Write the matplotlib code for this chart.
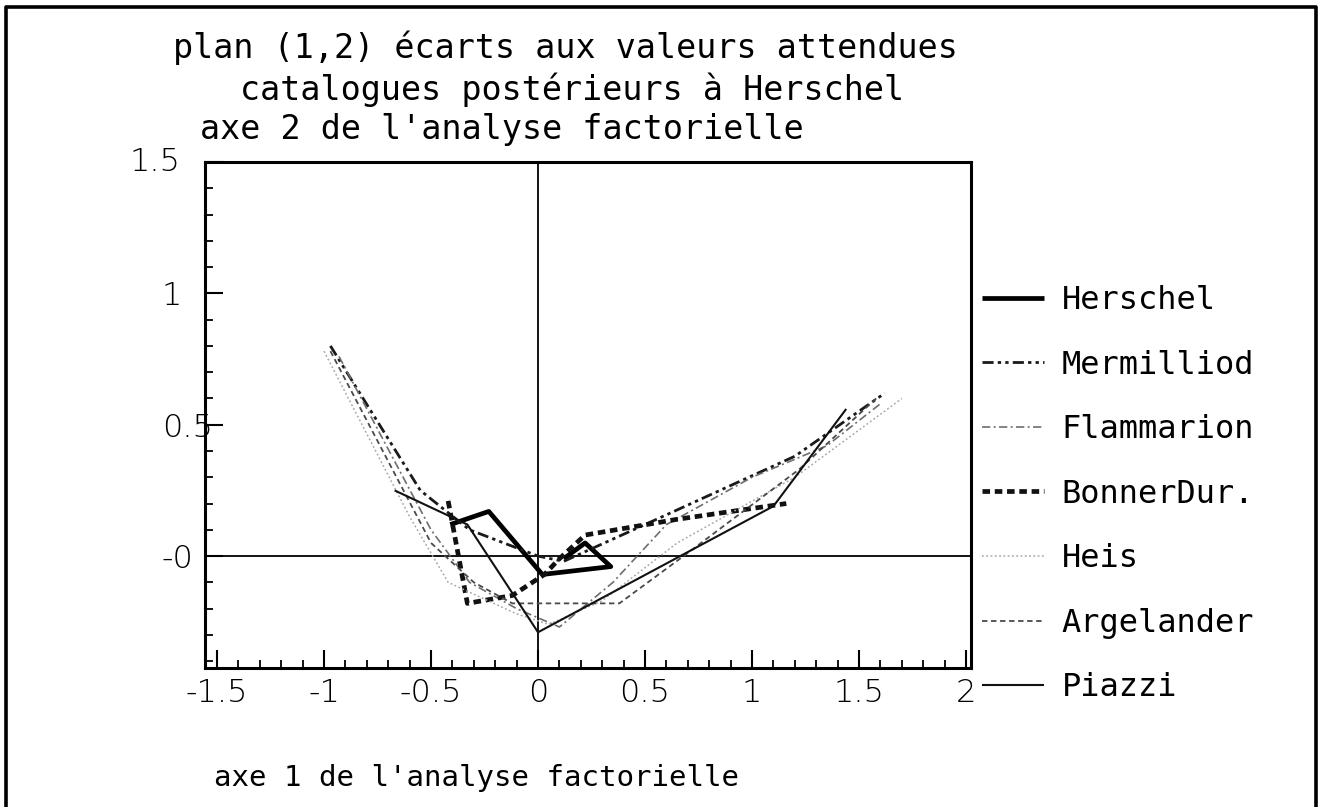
import matplotlib
matplotlib.use("Agg")
import matplotlib.pyplot as plt
from matplotlib.lines import Line2D
from matplotlib.ticker import MultipleLocator, FixedLocator, FixedFormatter

# ---- data: positions of each catalogue on the factorial plane (axis 1, axis 2)
series_names = ["Herschel", "Mermilliod", "Flammarion", "BonnerDur.",
                "Heis", "Argelander", "Piazzi"]

herschel_x = [-0.41, -0.23, 0.02, 0.34, 0.22, 0.12]
herschel_y = [0.12, 0.17, -0.07, -0.04, 0.05, -0.01]

mermilliod_x = [-0.97, -0.55, -0.32, 0.00, 0.12, 0.50, 1.20, 1.62]
mermilliod_y = [0.80, 0.25, 0.10, 0.00, -0.02, 0.12, 0.38, 0.62]

flammarion_x = [-0.93, -0.50, -0.32, -0.10, 0.10, 0.35, 0.60, 1.00, 1.35, 1.60]
flammarion_y = [0.76, 0.10, -0.10, -0.20, -0.27, -0.10, 0.12, 0.30, 0.42, 0.58]

bonner_x = [-0.42, -0.33, -0.12, 0.03, 0.10, 0.22, 0.65, 1.16]
bonner_y = [0.21, -0.18, -0.15, -0.07, -0.01, 0.08, 0.14, 0.20]

heis_x = [-1.00, -0.60, -0.42, -0.10, 0.05, 0.30, 0.65, 1.20, 1.70]
heis_y = [0.78, 0.15, -0.10, -0.22, -0.26, -0.17, 0.05, 0.30, 0.60]

argelander_x = [-0.97, -0.50, -0.30, -0.12, 0.38, 0.68, 1.22, 1.58]
argelander_y = [0.78, 0.05, -0.10, -0.18, -0.18, 0.00, 0.33, 0.60]

piazzi_x = [-0.67, -0.33, 0.00, 1.10, 1.44]
piazzi_y = [0.25, 0.12, -0.29, 0.19, 0.56]

x_tick_values = [-1.5, -1, -0.5, 0, 0.5, 1, 1.5, 2]
x_tick_labels = ["-1.5", "-1", "-0.5", "0", "0.5", "1", "1.5", "2"]
y_tick_values = [0, 0.5, 1]
y_tick_labels = ["-0", "0.5", "1"]

title_lines = ["plan (1,2) écarts aux valeurs attendues",
               "catalogues postérieurs à Herschel"]
y_label = "axe 2 de l'analyse factorielle"
x_label = "axe 1 de l'analyse factorielle"

# ---- styles
styles = {
    "Herschel":   dict(color="#000000", lw=3.4, ls="-"),
    "Mermilliod": dict(color="#1a1a1a", lw=2.0, ls=(0, (4, 1.5, 1.2, 1.5, 1.2, 1.5))),
    "Flammarion": dict(color="#6e6e6e", lw=1.2, ls=(0, (5, 2, 1.2, 2))),
    "BonnerDur.": dict(color="#111111", lw=3.4, ls=(0, (1.6, 1.0))),
    "Heis":       dict(color="#a8a8a8", lw=1.1, ls=(0, (1.2, 1.6))),
    "Argelander": dict(color="#4a4a4a", lw=1.3, ls=(0, (3, 2))),
    "Piazzi":     dict(color="#111111", lw=1.5, ls="-"),
}

data = {
    "Herschel": (herschel_x, herschel_y),
    "Mermilliod": (mermilliod_x, mermilliod_y),
    "Flammarion": (flammarion_x, flammarion_y),
    "BonnerDur.": (bonner_x, bonner_y),
    "Heis": (heis_x, heis_y),
    "Argelander": (argelander_x, argelander_y),
    "Piazzi": (piazzi_x, piazzi_y),
}

MONO = "DejaVu Sans Mono"
SANS = "DejaVu Sans"
TICK_SIZE = 23
TEXT_SIZE = 24

fig = plt.figure(figsize=(13.18, 8.07), dpi=100)
ax = fig.add_axes([205 / 1318, 1 - 668 / 807, (971 - 205) / 1318, (668 - 162) / 807])

ax.set_xlim(-1.556, 2.023)
ax.set_ylim(-0.426, 1.5)

# reference axes through the origin
ax.axhline(0, color="black", lw=1.3, zorder=1)
ax.axvline(0, color="black", lw=1.3, zorder=1)

handles = []
for name in series_names:
    xs, ys = data[name]
    st = styles[name]
    (ln,) = ax.plot(xs, ys, color=st["color"], lw=st["lw"], linestyle=st["ls"],
                    solid_capstyle="butt", dash_capstyle="butt", label=name, zorder=3)
    handles.append(ln)

for side in ["left", "right", "top", "bottom"]:
    ax.spines[side].set_linewidth(2.2)

ax.xaxis.set_major_locator(FixedLocator(x_tick_values))
ax.xaxis.set_major_formatter(FixedFormatter(x_tick_labels))
ax.xaxis.set_minor_locator(MultipleLocator(0.1))
ax.yaxis.set_major_locator(FixedLocator(y_tick_values + [1.5]))
ax.yaxis.set_major_formatter(FixedFormatter(y_tick_labels + [""]))
ax.yaxis.set_minor_locator(MultipleLocator(0.1))

ax.tick_params(which="major", direction="in", length=13, width=1.5, top=False, right=False)
ax.tick_params(which="minor", direction="in", length=6, width=1.3, top=False, right=False)
ax.tick_params(axis="x", which="major", pad=7, labelsize=TICK_SIZE)
ax.tick_params(axis="y", which="major", pad=31, labelsize=TICK_SIZE)
for lab in ax.get_xticklabels():
    lab.set_family(SANS)
    lab.set_fontweight("light")
for lab in ax.get_yticklabels():
    lab.set_family(SANS)
    lab.set_fontweight("light")
    lab.set_horizontalalignment("left")

# top label of the vertical axis
ax.text(-0.098, 1.5, "1.5", transform=ax.get_yaxis_transform(),
        ha="left", va="center", fontsize=TICK_SIZE, family=SANS, fontweight="light")

# titles and axis names
fig.text(565 / 1318, 1 - 48 / 807, title_lines[0], ha="center", va="center",
         fontsize=TEXT_SIZE, family=MONO)
fig.text(572 / 1318, 1 - 90 / 807, title_lines[1], ha="center", va="center",
         fontsize=TEXT_SIZE, family=MONO)
fig.text(200 / 1318, 1 - 130 / 807, y_label, ha="left", va="center",
         fontsize=TEXT_SIZE, family=MONO)
fig.text(476 / 1318, 1 - 778 / 807, x_label, ha="center", va="center",
         fontsize=21, family=MONO)

# legend on the right of the plotting area
leg = fig.legend(handles, series_names, loc="upper left",
                 bbox_to_anchor=(982 / 1318, 1 - 285 / 807),
                 frameon=False, borderpad=0, borderaxespad=0,
                 handlelength=1.95, handletextpad=0.55, labelspacing=1.05,
                 prop={"family": MONO, "size": 23})

# page frame
fx0, fx1, fy1 = 6 / 1318, 1316 / 1318, 1 - 7 / 807
fig.add_artist(Line2D([fx0, fx0, fx1, fx1], [0, fy1, fy1, 0],
                      transform=fig.transFigure, color="black", lw=2.6))

fig.savefig("out.png", dpi=100)
